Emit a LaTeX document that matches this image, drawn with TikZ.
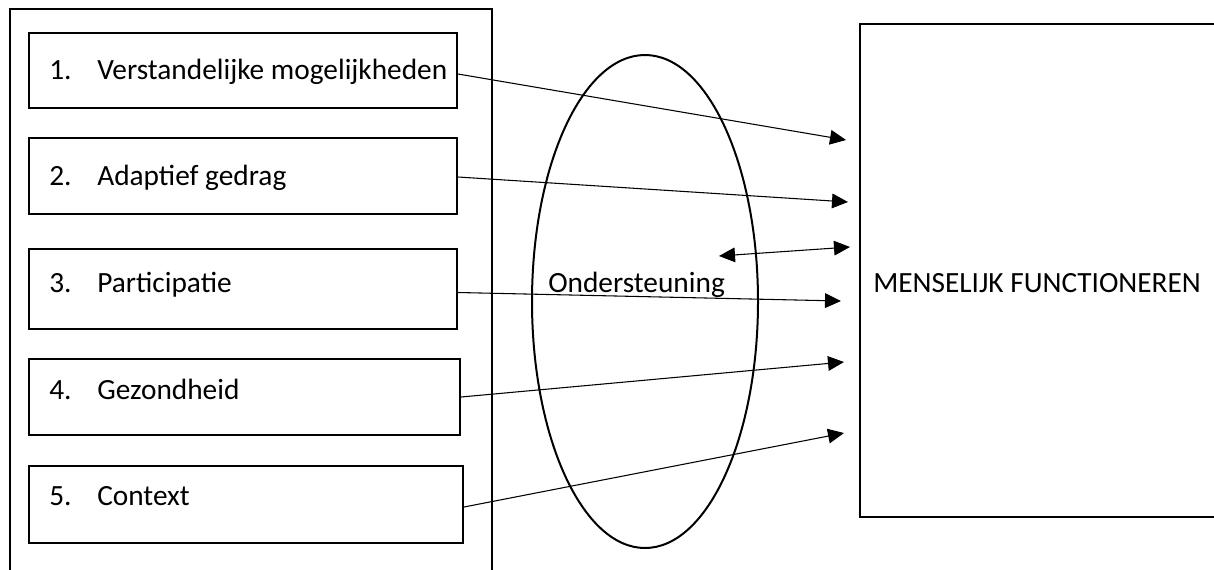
\documentclass[tikz,border=0pt]{standalone}
\usepackage{fontspec}
\setmainfont{Carlito}
\usetikzlibrary{arrows.meta,shapes.geometric}
\tikzset{
  frame/.style={line width=1.5pt},
  itembox/.style={draw,rectangle,line width=1.5pt,inner sep=0pt},
  lbl/.style={anchor=base west,inner sep=0pt,font=\fontsize{22}{26}\selectfont},
  tip/.tip={Triangle[length=12pt,width=11pt]},
  conn/.style={line width=0.8pt,-tip},
}
\begin{document}
\begin{tikzpicture}[x=0.75pt,y=-0.75pt]
\useasboundingbox (0,0) rectangle (1214,569);
\fill[white] (0,0) rectangle (1214,569);
% outer left frame
\draw[frame] (10,575) -- (10,9) -- (492,9) -- (492,575);
% right box
\draw[frame] (1220,24) -- (860,24) -- (860,517) -- (1220,517);
% ellipse
\node[draw,ellipse,line width=1.5pt,minimum width=226*0.75pt,minimum height=493*0.75pt,inner sep=0pt] (ond) at (645,301.5) {};
% item boxes
\node[itembox,minimum width=428*0.75pt,minimum height=75*0.75pt] (b1) at (243,70.5) {};
\node[itembox,minimum width=428*0.75pt,minimum height=76*0.75pt] (b2) at (243,176) {};
\node[itembox,minimum width=428*0.75pt,minimum height=80*0.75pt] (b3) at (243,289) {};
\node[itembox,minimum width=431*0.75pt,minimum height=76*0.75pt] (b4) at (244.5,397) {};
\node[itembox,minimum width=434*0.75pt,minimum height=77*0.75pt] (b5) at (246,504.5) {};
% labels
\node[lbl] (n1) at (49,79) {1.};
\node[lbl] (t1) at (97,79) {Verstandelijke mogelijkheden};
\node[lbl] (n2) at (49,185) {2.};
\node[lbl] (t2) at (97,185) {Adaptief gedrag};
\node[lbl] (n3) at (49,292) {3.};
\node[lbl] (t3) at (97,292) {Participatie};
\node[lbl] (n4) at (49,399) {4.};
\node[lbl] (t4) at (97,399) {Gezondheid};
\node[lbl] (n5) at (49,505) {5.};
\node[lbl] (t5) at (97,505) {Context};
\node[lbl] (ondt) at (548,292) {Ondersteuning};
\node[lbl] (mf) at (873,292) {MENSELIJK FUNCTIONEREN};
% arrow tips
\coordinate (e1) at (846,140);
\coordinate (e2) at (848,202);
\coordinate (e3) at (841,301);
\coordinate (e4) at (844,362);
\coordinate (e5) at (844,433);
\coordinate (d1) at (719,256);
\coordinate (d2) at (850,247);
% connectors
\draw[conn] ([yshift=-3.5*0.75pt]b1.east) -- (e1);
\draw[conn] ([yshift=-1*0.75pt]b2.east) -- (e2);
\draw[conn] ([yshift=-3.5*0.75pt]b3.east) -- (e3);
\draw[conn] (b4.east) -- (e4);
\draw[conn] ([yshift=-2.5*0.75pt]b5.east) -- (e5);
\draw[line width=0.8pt,tip-tip] (d1) -- (d2);
\end{tikzpicture}
\end{document}
